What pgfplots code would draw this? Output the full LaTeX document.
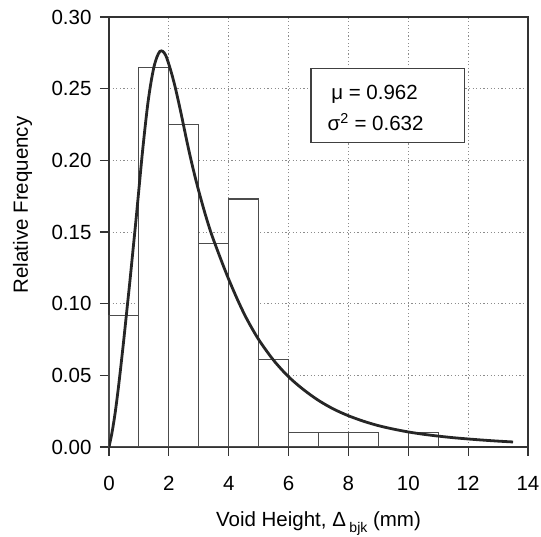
\documentclass[border=0pt]{standalone}
\usepackage{fontspec}
\setmainfont{Liberation Sans}
\usepackage{pgfplots}
\pgfplotsset{compat=1.18}

\newcommand{\lblfont}{\fontsize{20.5}{24}\selectfont}

\begin{document}
\begin{tikzpicture}
\begin{axis}[
  scale only axis, width=419pt, height=430pt,
  xmin=0, xmax=14, ymin=0, ymax=0.30,
  xtick={0,2,4,6,8,10,12,14},
  ytick={0,0.05,0.10,0.15,0.20,0.25,0.30},
  tick pos=left, tick align=outside, major tick length=9pt,
  grid=major,
  major grid style={dash pattern=on 1.2pt off 2.4pt, line width=0.9pt, black!45},
  axis line style={line width=1.3pt, black!80},
  every tick/.style={line width=1.1pt, black!80},
  tick label style={font=\lblfont},
  xticklabel style={yshift=-17pt},
  yticklabel style={xshift=-5pt},
  /pgf/number format/assume math mode=true,
  yticklabel style={/pgf/number format/.cd, fixed, fixed zerofill, precision=2},
]
% histogram (relative frequency per 1 mm bin)
\addplot[ybar interval, fill=white, draw=black!70, line width=1.1pt] coordinates {
  (0,0.092) (1,0.265) (2,0.225) (3,0.142) (4,0.173) (5,0.061)
  (6,0.010) (7,0.010) (8,0.010) (9,0) (10,0.010) (11,0)
};
% fitted curve
\addplot[smooth, line width=2.8pt, black!85] coordinates {
  (0,0) (0.1,0.010) (0.2,0.023) (0.3,0.039) (0.4,0.057) (0.5,0.076)
  (0.6,0.096) (0.7,0.116) (0.8,0.137) (0.9,0.158) (1.0,0.180) (1.1,0.202)
  (1.2,0.222) (1.3,0.240) (1.4,0.254) (1.5,0.265) (1.6,0.272) (1.7,0.276)
  (1.8,0.276) (1.9,0.273) (2.0,0.267) (2.1,0.260) (2.2,0.252) (2.3,0.243)
  (2.4,0.2335) (2.5,0.2235) (2.6,0.2135) (2.7,0.204) (2.8,0.195) (2.9,0.1865)
  (3.0,0.1785) (3.2,0.1635) (3.4,0.150) (3.6,0.1385) (3.8,0.1275) (4.0,0.117)
  (4.3,0.1025) (4.6,0.0895) (5.0,0.075) (5.5,0.0605) (6.0,0.049) (6.5,0.040)
  (7.0,0.0325) (7.5,0.0265) (8.0,0.0218) (8.5,0.018) (9.0,0.0149) (9.5,0.0125)
  (10,0.0105) (10.5,0.0089) (11,0.0076) (11.5,0.0065) (12,0.0056) (12.5,0.0048)
  (13,0.0041) (13.5,0.0035)
};
\draw[line width=1.1pt, black!75, fill=white] (axis cs:6.75,0.2125) rectangle (axis cs:11.88,0.264);
\node[anchor=base west, inner sep=0pt, font=\lblfont] at (axis cs:7.42,0.2421) {μ = 0.962};
\node[anchor=base west, inner sep=0pt, font=\lblfont] at (axis cs:7.30,0.2205) {σ\textsuperscript{2} = 0.632};
\coordinate (bl) at (rel axis cs:0,0);
\coordinate (tr) at (rel axis cs:1,1);
\coordinate (yl) at (rel axis cs:0,0.563);
\coordinate (xl) at (rel axis cs:0.5,0);
\end{axis}
\node[rotate=90, anchor=base, inner sep=0pt, font=\lblfont] at ([xshift=-81pt]yl) {Relative Frequency};
\node[anchor=base, inner sep=0pt, font=\lblfont] at ([yshift=-80pt]xl)
  {Void Height, Δ\,\raisebox{-6pt}{\fontsize{14}{16}\selectfont bjk}\ (mm)};
\pgfresetboundingbox
\path ([xshift=-109pt,yshift=-90pt]bl) rectangle ([xshift=13pt,yshift=17pt]tr);
\end{tikzpicture}
\end{document}
